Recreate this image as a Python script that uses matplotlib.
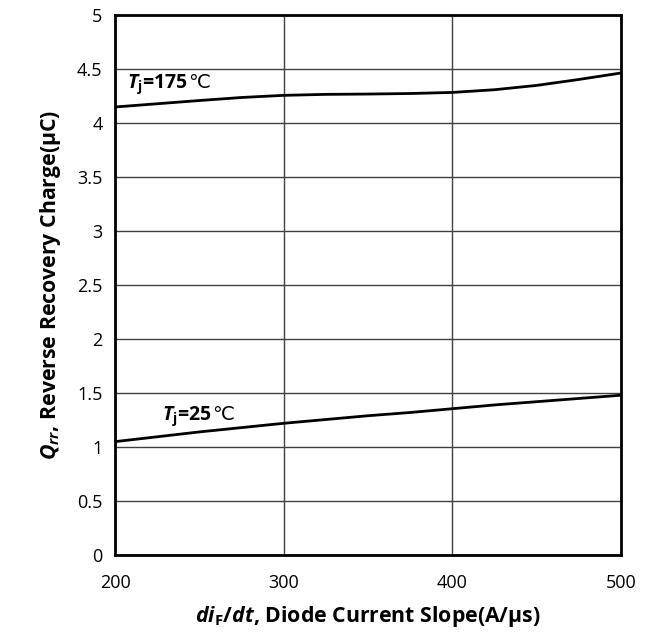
import numpy as np
import matplotlib
matplotlib.use("Agg")
import matplotlib.pyplot as plt

plt.rcParams["font.family"] = ["Open Sans", "DejaVu Sans"]
plt.rcParams["mathtext.fontset"] = "custom"
plt.rcParams["mathtext.rm"] = "Open Sans"
plt.rcParams["mathtext.it"] = "Open Sans:italic"
plt.rcParams["mathtext.bf"] = "Open Sans:bold"
plt.rcParams["mathtext.bfit"] = "Open Sans:bold:italic"

# diF/dt (A/us) and Qrr (uC) at two junction temperatures
slope = [200, 225, 250, 275, 300, 325, 350, 375, 400, 425, 450, 475, 500]
qrr_175 = [4.15, 4.18, 4.21, 4.238, 4.258, 4.267, 4.27, 4.275, 4.285, 4.31, 4.35, 4.405, 4.465]
qrr_25 = [1.05, 1.095, 1.14, 1.18, 1.22, 1.255, 1.29, 1.32, 1.355, 1.39, 1.42, 1.45, 1.48]

xticks = [200, 300, 400, 500]
yticks = np.arange(0, 5.01, 0.5)
ytick_labels = ["0", "0.5", "1", "1.5", "2", "2.5", "3", "3.5", "4", "4.5", "5"]

fig = plt.figure(figsize=(6.55, 6.35), dpi=100)
ax = fig.add_axes([0.1756, 0.126, 0.7725, 0.85])

ax.plot(slope, qrr_175, color="black", lw=2)
ax.plot(slope, qrr_25, color="black", lw=2)


def temp_label(x, y, temp):
    t = ax.text(x, y, r"$\mathbfit{T}_{\mathbf{j}}$=" + temp,
                fontsize=14, fontweight="bold", va="baseline")
    # degree sign from a font that has it, on the same baseline
    ax.annotate("℃", xy=(1, y), xycoords=(t, "data"), va="baseline", ha="left",
                fontsize=14, family="DejaVu Sans")


temp_label(207, 4.33, "175")
temp_label(228, 1.25, "25")

ax.set_xlim(200, 500)
ax.set_ylim(0, 5)
ax.set_xticks(xticks)
ax.set_yticks(yticks)
ax.set_yticklabels(ytick_labels)
ax.tick_params(length=0, labelsize=13, pad=9)
ax.tick_params(axis="x", pad=14)
ax.grid(True, color="#404040", lw=1)
for s in ax.spines.values():
    s.set_linewidth(2)
    s.set_color("black")

ax.set_xlabel(r"$\mathbfit{di}_{\mathbf{F}}\mathbf{/}\mathbfit{dt}$, Diode Current Slope(A/μs)",
              fontsize=15.3, fontweight="bold", labelpad=8)
ax.set_ylabel(r"$\mathbfit{Q}_{\mathbfit{rr}}$, Reverse Recovery Charge(μC)",
              fontsize=15.3, fontweight="bold", labelpad=10)

fig.savefig("out.png", dpi=100)
